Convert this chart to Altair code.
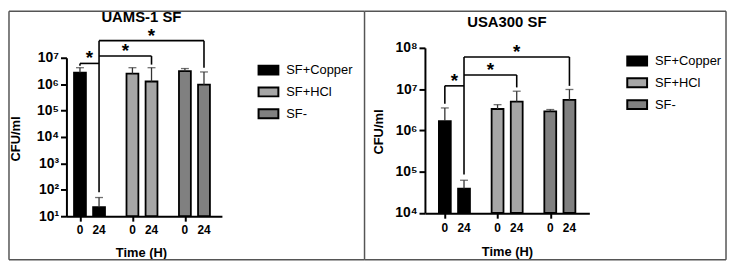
import altair as alt
import pandas as pd

FONT = "Liberation Sans"

groups = ["SF+Copper", "SF+HCl", "SF-"]
times = ["0", "24"]
colors = ["#000000", "#a6a6a6", "#808080"]

# bar order: Copper 0, Copper 24, HCl 0, HCl 24, SF- 0, SF- 24
uams_mean = [2.75e6, 22, 2.5e6, 1.26e6, 3.1e6, 9.6e5]
uams_upper = [4.2e6, 51, 4.2e6, 4.2e6, 3.9e6, 2.9e6]
usa_mean = [1.68e6, 3.9e4, 3.3e6, 5.0e6, 2.9e6, 5.5e6]
usa_upper = [3.5e6, 6.2e4, 4.2e6, 8.9e6, 3.2e6, 9.8e6]

# significance brackets: (from bar, to bar, level, drop at left end, drop at right end)
uams_brackets = [(0, 1, 6.1e6, 5.0e6, None), (1, 3, 1.16e7, None, 5.5e6), (1, 5, 4.45e7, 80, 4.2e6)]
usa_brackets = [(0, 1, 1.2e7, 4.4e6, None), (1, 3, 2.2e7, None, 1.1e7), (1, 5, 6.0e7, 8.5e4, 1.2e7)]

GROUP_STEP = 2.75


def bar_table(mean, upper, base):
    rows = []
    i = 0
    for g, grp in enumerate(groups):
        for t, tm in enumerate(times):
            rows.append({"series": grp, "time": tm, "pos": g * GROUP_STEP + t,
                         "mean": mean[i], "upper": upper[i], "base": base})
            i += 1
    return pd.DataFrame(rows)


def bracket_tables(df, brackets):
    segs, stars = [], []
    for a, b, lvl, dl, dr in brackets:
        xa, xb = float(df["pos"][a]), float(df["pos"][b])
        segs.append({"x": xa, "x2": xb, "y": lvl, "y2": lvl})
        if dl is not None:
            segs.append({"x": xa, "x2": xa, "y": lvl, "y2": dl})
        if dr is not None:
            segs.append({"x": xb, "x2": xb, "y": lvl, "y2": dr})
        stars.append({"x": (xa + xb) / 2, "y": lvl})
    return pd.DataFrame(segs), pd.DataFrame(stars)


one = pd.DataFrame({"k": [0]})


def label(txt, x, y, size, angle=0):
    return alt.Chart(one).mark_text(
        text=txt, font=FONT, fontSize=size, fontWeight="bold", color="black",
        align="center", baseline="middle", angle=angle
    ).encode(x=alt.value(x), y=alt.value(y))


def seg(x1, x2, y1, y2):
    return alt.Chart(one).mark_rule(color="#555555", strokeWidth=1.5).encode(
        x=alt.value(x1), x2=alt.value(x2), y=alt.value(y1), y2=alt.value(y2))


def panel(mean, upper, brackets, ydom, yrange, xdom, width, height, title,
          title_xy, ytitle_xy, xtitle_xy, legend_xy, frames, xlab_dy):
    df = bar_table(mean, upper, ydom[0])
    segs, stars = bracket_tables(df, brackets)
    decades = [10 ** k for k in range(len(str(int(ydom[0]))) - 1, len(str(int(ydom[1]))))]
    xs = alt.Scale(domain=xdom, nice=False, zero=False)
    ys = alt.Scale(type="log", domain=ydom, range=yrange, nice=False)
    xaxis = alt.Axis(values=[float(v) for v in df["pos"]], title=None, grid=False, labels=False,
                     domainColor="black", domainWidth=2, tickColor="black", tickWidth=2,
                     tickSize=5)
    yaxis = alt.Axis(values=decades, title=None, grid=False,
                     labelExpr="'10' + substring('⁰¹²³⁴⁵⁶⁷⁸⁹', round(log(datum.value)/LN10), round(log(datum.value)/LN10)+1)",
                     domainColor="black", domainWidth=2, tickColor="black", tickWidth=2,
                     tickSize=6, labelFont=FONT, labelFontSize=14, labelFontWeight="bold",
                     labelColor="black", labelPadding=2, labelFlush=False, labelOverlap=False)
    legend = alt.Legend(orient="none", legendX=legend_xy[0], legendY=legend_xy[1], title=None,
                        symbolType="M-1,-0.45H1V0.45H-1Z", symbolSize=400,
                        symbolStrokeColor="black", symbolStrokeWidth=2, symbolOpacity=1,
                        labelFont=FONT, labelFontSize=13, labelColor="black",
                        labelOffset=7, rowPadding=2, padding=0, direction="vertical")
    base = alt.Chart(df)
    bars = base.mark_bar(size=12, stroke="black", strokeWidth=1.8).encode(
        x=alt.X("pos:Q", scale=xs, axis=xaxis),
        y=alt.Y("mean:Q", scale=ys, axis=yaxis),
        y2="base:Q",
        fill=alt.Fill("series:N", scale=alt.Scale(domain=groups, range=colors), legend=legend),
    )
    err = base.mark_rule(color="#333333", strokeWidth=1.3).encode(x="pos:Q", y="mean:Q", y2="upper:Q")
    cap = base.mark_tick(orient="horizontal", size=8, thickness=1.3, color="#333333").encode(
        x="pos:Q", y="upper:Q")
    xlab = base.mark_text(font=FONT, fontSize=12, fontWeight="bold", color="black",
                          align="center", baseline="middle").encode(
        x="pos:Q", y=alt.value(height + xlab_dy), text="time:N")
    br = alt.Chart(segs).mark_rule(color="black", strokeWidth=1.6).encode(
        x="x:Q", x2="x2:Q", y="y:Q", y2="y2:Q")
    st = alt.Chart(stars).mark_text(text="*", font=FONT, fontSize=19, fontWeight="bold",
                                    color="black", baseline="alphabetic", dy=1).encode(
        x="x:Q", y="y:Q")
    layers = [bars, err, cap, xlab, br, st,
              label(title, title_xy[0], title_xy[1], 15),
              label("CFU/ml", ytitle_xy[0], ytitle_xy[1], 13, angle=270),
              label("Time (H)", xtitle_xy[0], xtitle_xy[1], 13)]
    layers += [seg(*f) for f in frames]
    return alt.layer(*layers).properties(width=width, height=height)


left = panel(uams_mean, uams_upper, uams_brackets, [10, 1e7], [170, 10], [-0.45, 7.18],
             157, 170, "UAMS-1 SF", (75.7, -31.5), (-51, 92), (75.7, 207), (193, 11.5),
             [(-58, 301, -37, -37), (-58, -58, -37, 214), (301, 301, -37, 214), (-58, 301, 214, 214)],
             14)
right = panel(usa_mean, usa_upper, usa_brackets, [1e4, 1e8], [166.7, 0], [-0.78, 7.28],
              166, 167, "USA300 SF", (82.7, -26), (-46.7, 85), (83.3, 206), (203.3, 2.3),
              [(-61, 304, -37, -37), (304, 304, -37, 214), (-61, 304, 214, 214)],
              14.7)

chart = alt.hconcat(left, right, spacing=205, bounds="flush").resolve_scale(
    x="independent", y="independent", fill="independent"
).resolve_legend(fill="independent").properties(
    padding=0, background="white"
).configure_view(stroke=None)

chart.save("out.html", embed_options={"renderer": "svg", "actions": False})
